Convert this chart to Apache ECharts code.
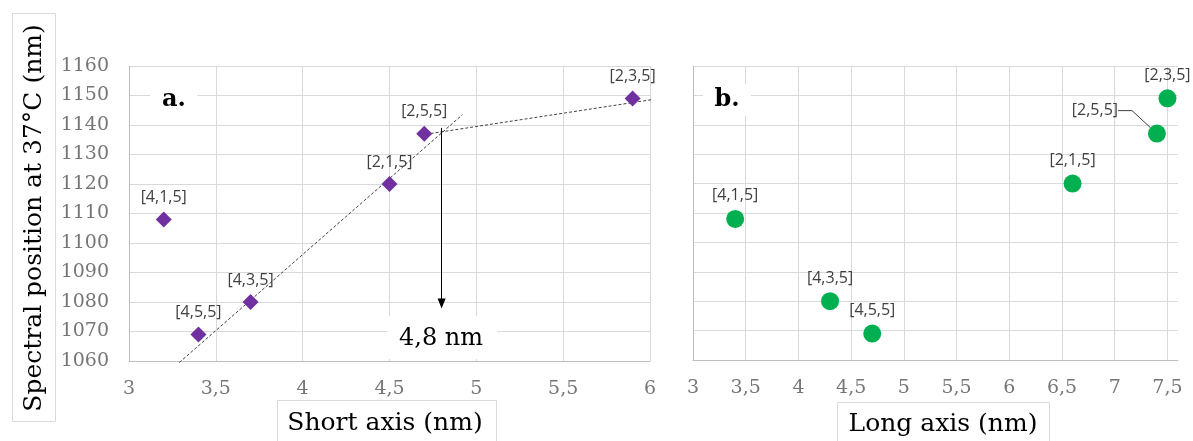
<!DOCTYPE html>
<html><head><meta charset="utf-8">
<script src="https://cdn.jsdelivr.net/npm/echarts@6/dist/echarts.min.js"></script>
<style>html,body{margin:0;padding:0;background:#fff}#c{width:1193px;height:441px}</style>
</head><body><div id="c"></div>
<script>
// ---- data ----
const pointLabels = ['[4,1,5]', '[4,5,5]', '[4,3,5]', '[2,1,5]', '[2,5,5]', '[2,3,5]'];
const shortAxis = [3.2, 3.4, 3.7, 4.5, 4.7, 5.9];
const longAxis = [3.4, 4.7, 4.3, 6.6, 7.4, 7.5];
const spectralPos = [1108, 1069, 1080, 1120, 1137, 1149];
// trend lines (end points)
const steepTrendX = [3.29, 4.92];
const steepTrendY = [1059.5, 1143.5];
const flatTrendX = [4.68, 6.1];
const flatTrendY = [1136.6, 1149.4];
// arrow
const arrowX = 4.8, arrowTop = 1139, arrowBottom = 1079.5;
const arrowText = '4,8 nm';
// axes
const yMin = 1060, yMax = 1160, yStep = 10;
const xShortMin = 3, xShortMax = 6, xLongMin = 3, xLongMax = 7.6, xStep = 0.5;
const yTitle = 'Spectral position at 37°C (nm)';
const xTitleShort = 'Short axis (nm)';
const xTitleLong = 'Long axis (nm)';

const serif = 'DejaVu Serif';
const tickFont = {fontFamily: serif, fontSize: 19, color: '#767676'};
const comma = v => String(v).replace('.', ',');
const gridLineColor = '#d9d9d9';
const axisLineColor = '#bfbfbf';
const labelStyle = {show: true, position: 'top', distance: 6, fontFamily: 'Open Sans', fontSize: 16, color: '#404040'};

const chart = echarts.init(document.getElementById('c'));
function xAxis(idx, min, max) {
  return {type: 'value', gridIndex: idx, min: min, max: max, interval: xStep,
    axisLine: {show: true, lineStyle: {color: axisLineColor, width: 1}},
    axisTick: {show: false},
    axisLabel: Object.assign({margin: 19, formatter: comma, showMaxLabel: idx === 0}, tickFont),
    splitLine: {show: true, showMaxLine: idx === 0, lineStyle: {color: gridLineColor, width: 1}}};
}
function yAxis(idx) {
  return {type: 'value', gridIndex: idx, min: yMin, max: yMax, interval: yStep,
    axisLine: {show: true, lineStyle: {color: axisLineColor, width: 1}},
    axisTick: {show: false},
    axisLabel: Object.assign({show: idx === 0, margin: 20, formatter: v => String(v)}, tickFont),
    splitLine: {show: true, lineStyle: {color: gridLineColor, width: 1}}};
}
const dashed = {color: '#404040', width: 1, type: [3, 2]};
chart.setOption({
  animation: false,
  grid: [
    {left: 129, top: 66, width: 521, height: 295, outerBoundsMode: 'none'},
    {left: 693, top: 66, width: 485, height: 294, outerBoundsMode: 'none'}
  ],
  xAxis: [xAxis(0, xShortMin, xShortMax), xAxis(1, xLongMin, xLongMax)],
  yAxis: [yAxis(0), yAxis(1)],
  graphic: [
    {type: 'rect', z: 1, shape: {x: 12.5, y: 13.5, width: 43, height: 408}, style: {fill: '#fff', stroke: '#d9d9d9', lineWidth: 1}},
    {type: 'text', z: 2, x: 34, y: 218, rotation: Math.PI / 2,
      style: {text: yTitle, fontFamily: serif, fontSize: 25, fill: '#000', align: 'center', verticalAlign: 'middle'}},
    {type: 'rect', z: 1, shape: {x: 277.5, y: 400.5, width: 219, height: 50}, style: {fill: '#fff', stroke: '#d9d9d9', lineWidth: 1}},
    {type: 'text', z: 2, x: 385, y: 423,
      style: {text: xTitleShort, fontFamily: serif, fontSize: 25, fill: '#000', align: 'center', verticalAlign: 'middle'}},
    {type: 'rect', z: 1, shape: {x: 837.5, y: 402.5, width: 212, height: 50}, style: {fill: '#fff', stroke: '#d9d9d9', lineWidth: 1}},
    {type: 'text', z: 2, x: 943, y: 424,
      style: {text: xTitleLong, fontFamily: serif, fontSize: 25, fill: '#000', align: 'center', verticalAlign: 'middle'}},
    {type: 'rect', z: 1, shape: {x: 150, y: 84, width: 47, height: 32}, style: {fill: '#fff'}},
    {type: 'text', z: 2, x: 174, y: 100,
      style: {text: 'a.', fontFamily: serif, fontWeight: 'bold', fontSize: 24, fill: '#000', align: 'center', verticalAlign: 'middle'}},
    {type: 'rect', z: 1, shape: {x: 703, y: 84, width: 48, height: 32}, style: {fill: '#fff'}},
    {type: 'text', z: 2, x: 727, y: 100,
      style: {text: 'b.', fontFamily: serif, fontWeight: 'bold', fontSize: 24, fill: '#000', align: 'center', verticalAlign: 'middle'}},
    {type: 'rect', z: 1, shape: {x: 387, y: 316, width: 110, height: 43}, style: {fill: '#fff'}},
    {type: 'text', z: 2, x: 441, y: 339,
      style: {text: arrowText, fontFamily: serif, fontSize: 24, fill: '#000', align: 'center', verticalAlign: 'middle'}}
  ],
  series: [
    {type: 'line', xAxisIndex: 0, yAxisIndex: 0, symbol: 'none', clip: false, silent: true, z: 3,
      lineStyle: dashed, data: steepTrendX.map((x, i) => [x, steepTrendY[i]])},
    {type: 'line', xAxisIndex: 0, yAxisIndex: 0, symbol: 'none', clip: false, silent: true, z: 3,
      lineStyle: dashed, data: flatTrendX.map((x, i) => [x, flatTrendY[i]])},
    {type: 'line', xAxisIndex: 0, yAxisIndex: 0, symbol: 'none', data: [], silent: true,
      markLine: {silent: true, symbol: ['none', 'triangle'], symbolSize: [8, 10], label: {show: false},
        lineStyle: {color: '#000', width: 1, type: 'solid'},
        data: [[{coord: [arrowX, arrowTop]}, {coord: [arrowX, arrowBottom]}]]}},
    {type: 'scatter', xAxisIndex: 0, yAxisIndex: 0, symbol: 'diamond', symbolSize: 16, z: 4,
      itemStyle: {color: '#7030A0', opacity: 1},
      label: Object.assign({formatter: p => pointLabels[p.dataIndex]}, labelStyle),
      data: shortAxis.map((x, i) => [x, spectralPos[i]])},
    {type: 'scatter', xAxisIndex: 1, yAxisIndex: 1, symbol: 'circle', symbolSize: 18, z: 4,
      itemStyle: {color: '#00B050', opacity: 1},
      label: Object.assign({formatter: p => pointLabels[p.dataIndex]}, labelStyle),
      labelLayout: p => (p.dataIndex === 4 ? {dx: -62, dy: 0} : {}),
      data: longAxis.map((x, i) => {
        const d = {value: [x, spectralPos[i]]};
        if (i === 4) d.labelLine = {show: true, length2: 14, lineStyle: {color: '#404040', width: 1}};
        return d;
      })}
  ]
});
</script></body></html>
